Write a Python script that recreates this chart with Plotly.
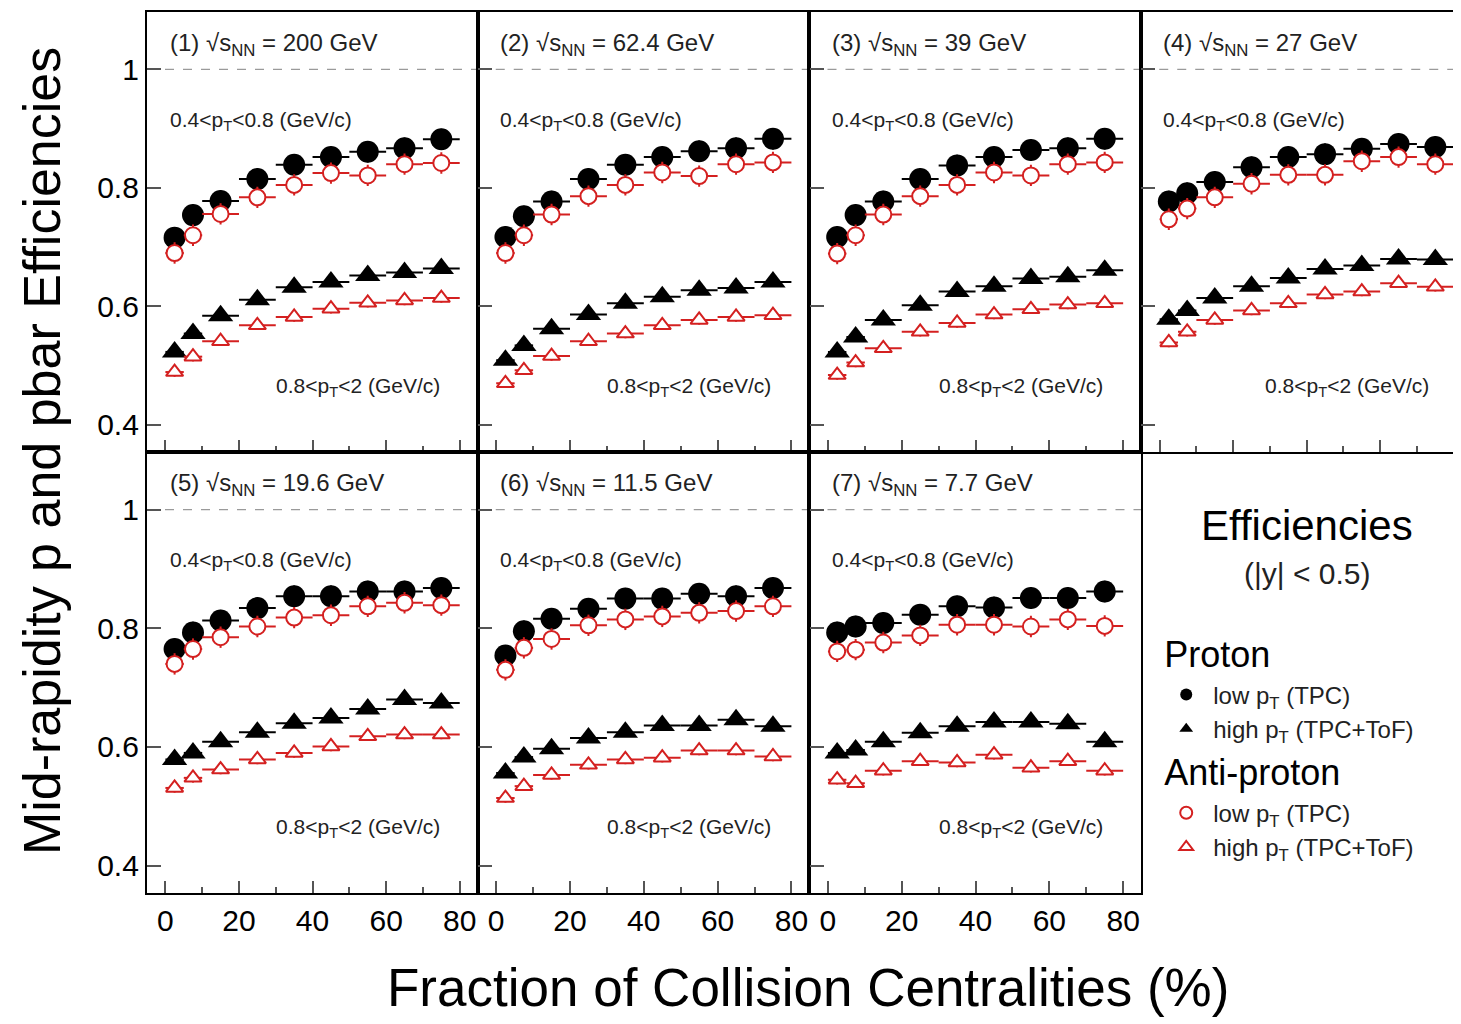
import plotly.graph_objects as go

# ---------------- data ----------------
centrality = [2.5, 7.5, 15, 25, 35, 45, 55, 65, 75]
bin_half = [2.5, 2.5, 5, 5, 5, 5, 5, 5, 5]
energies = ["200", "62.4", "39", "27", "19.6", "11.5", "7.7"]

# proton, low pT (TPC), 0.4<pT<0.8
proton_low = [
    [0.716, 0.754, 0.778, 0.815, 0.839, 0.852, 0.861, 0.867, 0.882],
    [0.717, 0.752, 0.777, 0.815, 0.839, 0.852, 0.862, 0.867, 0.883],
    [0.717, 0.754, 0.777, 0.815, 0.838, 0.852, 0.864, 0.867, 0.883],
    [0.777, 0.791, 0.810, 0.835, 0.852, 0.857, 0.866, 0.874, 0.869],
    [0.765, 0.793, 0.813, 0.834, 0.854, 0.854, 0.862, 0.862, 0.868],
    [0.754, 0.795, 0.816, 0.833, 0.850, 0.850, 0.858, 0.854, 0.868],
    [0.793, 0.803, 0.809, 0.823, 0.837, 0.835, 0.851, 0.851, 0.862],
]
# anti-proton, low pT (TPC)
pbar_low = [
    [0.690, 0.720, 0.756, 0.784, 0.805, 0.825, 0.821, 0.840, 0.842],
    [0.690, 0.720, 0.755, 0.786, 0.805, 0.826, 0.820, 0.840, 0.843],
    [0.689, 0.720, 0.755, 0.786, 0.805, 0.826, 0.821, 0.840, 0.843],
    [0.747, 0.765, 0.784, 0.807, 0.822, 0.822, 0.845, 0.852, 0.840],
    [0.740, 0.765, 0.785, 0.803, 0.818, 0.822, 0.837, 0.843, 0.839],
    [0.730, 0.767, 0.782, 0.805, 0.815, 0.820, 0.826, 0.829, 0.837],
    [0.761, 0.764, 0.776, 0.788, 0.806, 0.806, 0.803, 0.815, 0.804],
]
# proton, high pT (TPC+ToF), 0.8<pT<2
proton_high = [
    [0.523, 0.554, 0.584, 0.611, 0.632, 0.641, 0.652, 0.657, 0.664],
    [0.509, 0.534, 0.562, 0.586, 0.605, 0.616, 0.627, 0.631, 0.641],
    [0.523, 0.548, 0.577, 0.602, 0.625, 0.634, 0.647, 0.650, 0.661],
    [0.578, 0.593, 0.614, 0.634, 0.648, 0.663, 0.669, 0.680, 0.679],
    [0.579, 0.590, 0.609, 0.625, 0.640, 0.649, 0.664, 0.680, 0.674],
    [0.556, 0.583, 0.597, 0.615, 0.625, 0.636, 0.636, 0.646, 0.635],
    [0.590, 0.595, 0.609, 0.624, 0.635, 0.642, 0.642, 0.639, 0.609],
]
# anti-proton, high pT (TPC+ToF)
pbar_high = [
    [0.489, 0.515, 0.541, 0.568, 0.582, 0.596, 0.606, 0.610, 0.614],
    [0.470, 0.492, 0.516, 0.541, 0.554, 0.568, 0.577, 0.582, 0.585],
    [0.484, 0.505, 0.529, 0.557, 0.572, 0.586, 0.595, 0.603, 0.605],
    [0.539, 0.557, 0.577, 0.593, 0.605, 0.620, 0.625, 0.639, 0.633],
    [0.531, 0.548, 0.562, 0.579, 0.590, 0.601, 0.618, 0.621, 0.621],
    [0.514, 0.534, 0.553, 0.570, 0.579, 0.582, 0.594, 0.594, 0.584],
    [0.545, 0.539, 0.560, 0.576, 0.574, 0.587, 0.565, 0.576, 0.560],
]
err_low = 0.018
err_high = 0.008

x_ticks = [0, 20, 40, 60, 80]
x_minor = [10, 30, 50, 70]
y_ticks = [0.4, 0.6, 0.8, 1.0]
y_ticktext = ["0.4", "0.6", "0.8", "1"]

# ---------------- figure ----------------
FONT = "Liberation Sans, Arial, Helvetica, sans-serif"
RED = "#d42020"
fig = go.Figure()

OFF = 8                      # page body margin of the html page
W, H = 1461 - OFF, 1024 - OFF
# page-pixel frame positions
LEFT, RIGHT, TOP, BOTTOM, MID = 147, 1458, 10, 893, 451
col_px = [147, 478, 810, 1142, 1458]
ml, mt = LEFT - OFF, TOP - OFF
mr, mb = W - (RIGHT - OFF), H - (BOTTOM - OFF)
pw = RIGHT - LEFT
ph = BOTTOM - TOP

def px_x(x):
    return (x - LEFT) / pw

def px_y(y):
    return (BOTTOM - y) / ph

col_dom = [[px_x(col_px[i]), px_x(col_px[i + 1])] for i in range(4)]
row_dom = [[px_y(MID), 1.0], [0.0, px_y(MID)]]

series = [
    (proton_low, "circle", 22, "black", "black", 0, err_low, "Proton", "low p<sub>T</sub> (TPC)"),
    (proton_high, "triangle-up", 22, "black", "black", 0, err_high, "Proton", "high p<sub>T</sub> (TPC+ToF)"),
    (pbar_low, "circle", 16, "white", RED, 2, err_low, "Anti-proton", "low p<sub>T</sub> (TPC)"),
    (pbar_high, "triangle-up", 15, "white", RED, 2, err_high, "Anti-proton", "high p<sub>T</sub> (TPC+ToF)"),
]

for k in range(8):
    idx = k + 1
    r, c = divmod(k, 4)
    xa = "xaxis" if idx == 1 else f"xaxis{idx}"
    ya = "yaxis" if idx == 1 else f"yaxis{idx}"
    xref = "x" if idx == 1 else f"x{idx}"
    yref = "y" if idx == 1 else f"y{idx}"
    xr = [-5, 84.9] if c < 3 else [-5, 80.9]
    leg_panel = (k == 7)
    fig.layout[xa] = dict(
        domain=col_dom[c], range=xr, anchor=yref,
        showline=True, linewidth=2.2, linecolor="black", mirror=True,
        showgrid=False, zeroline=False,
        ticks="" if leg_panel else "inside", ticklen=12, tickwidth=1.5, tickcolor="#555",
        tickvals=[] if leg_panel else x_ticks,
        showticklabels=(r == 1 and not leg_panel),
        tickfont=dict(size=30, family=FONT, color="black"),
        minor=dict(ticks="" if leg_panel else "inside", ticklen=6, tickwidth=1.5,
                   tickcolor="#555", tickvals=[] if leg_panel else x_minor),
        fixedrange=True,
    )
    fig.layout[ya] = dict(
        domain=row_dom[r], range=[0.354, 1.097], anchor=xref,
        showline=True, linewidth=2.2, linecolor="black", mirror=True,
        showgrid=False, zeroline=False,
        ticks="" if leg_panel else "inside", ticklen=14, tickwidth=1.5, tickcolor="#555",
        tickvals=[] if leg_panel else y_ticks,
        ticktext=[] if leg_panel else y_ticktext,
        showticklabels=(c == 0),
        tickfont=dict(size=30, family=FONT, color="black"),
        fixedrange=True,
    )
    if leg_panel:
        continue

    # reference dashed line at efficiency = 1
    fig.add_shape(type="line", xref=f"{xref} domain", yref=yref, x0=0, x1=1, y0=1, y1=1,
                  line=dict(color="#9a9a9a", width=1.2, dash="dash"), layer="below")

    for (data, sym, size, fill, col, lw, err, grp, name) in series:
        fig.add_trace(go.Scatter(
            x=centrality, y=data[k], xaxis=xref, yaxis=yref, mode="markers",
            marker=dict(symbol=sym, size=size, color=fill, line=dict(color=col, width=lw)),
            error_x=dict(type="data", array=bin_half, color=col, thickness=2, width=0),
            error_y=dict(type="data", array=[err] * 9, color=col, thickness=2, width=0),
            name=name, legendgroup=grp,
            legendgrouptitle=dict(text=grp, font=dict(size=36, family=FONT, color="black")),
            showlegend=(k == 0), hoverinfo="skip",
        ))

    # panel texts
    fig.add_annotation(xref=f"{xref} domain", yref=f"{yref} domain", x=0.062, y=0.926,
                       xanchor="left", yanchor="middle", showarrow=False,
                       text=f"({k + 1}) √s<sub>NN</sub> = {energies[k]} GeV",
                       font=dict(size=24, family=FONT, color="#222"))
    fig.add_annotation(xref=f"{xref} domain", yref=f"{yref} domain", x=0.062, y=0.752,
                       xanchor="left", yanchor="middle", showarrow=False,
                       text="0.4<p<sub>T</sub><0.8 (GeV/c)",
                       font=dict(size=21, family=FONT, color="#222"))
    fig.add_annotation(xref=f"{xref} domain", yref=f"{yref} domain", x=0.385, y=0.147,
                       xanchor="left", yanchor="middle", showarrow=False,
                       text="0.8<p<sub>T</sub><2 (GeV/c)",
                       font=dict(size=21, family=FONT, color="#222"))

# legend panel texts
fig.add_annotation(xref="paper", yref="paper", x=px_x(1308), y=px_y(525),
                   showarrow=False, text="Efficiencies", xanchor="center", yanchor="middle",
                   font=dict(size=42, family=FONT, color="black"))
fig.add_annotation(xref="paper", yref="paper", x=px_x(1308), y=px_y(573),
                   showarrow=False, text="(|y| < 0.5)", xanchor="center", yanchor="middle",
                   font=dict(size=30, family=FONT, color="#222"))

# global axis titles
fig.add_annotation(xref="paper", yref="paper", x=px_x(42), y=px_y(450),
                   showarrow=False, textangle=-90, text="Mid-rapidity p and pbar Efficiencies",
                   xanchor="center", yanchor="middle",
                   font=dict(size=52, family=FONT, color="black"))
fig.add_annotation(xref="paper", yref="paper", x=px_x(809), y=px_y(988),
                   showarrow=False, text="Fraction of Collision Centralities (%)",
                   xanchor="center", yanchor="middle",
                   font=dict(size=53, family=FONT, color="black"))

fig.update_layout(
    width=W, height=H,
    margin=dict(l=ml, r=mr, t=mt, b=mb),
    paper_bgcolor="white", plot_bgcolor="white",
    font=dict(family=FONT, color="black"),
    showlegend=True,
    legend=dict(x=px_x(1160), y=px_y(622), xanchor="left", yanchor="top",
                bgcolor="rgba(0,0,0,0)", font=dict(size=24, family=FONT, color="#222"),
                traceorder="grouped", tracegroupgap=0, itemsizing="constant", itemwidth=44),
)

fig.write_html("out.html")
